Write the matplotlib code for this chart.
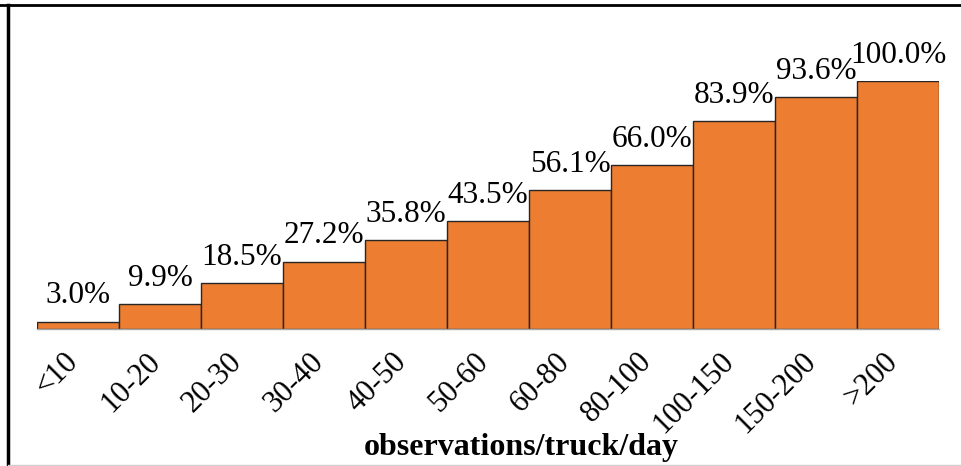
import numpy as np
import matplotlib.pyplot as plt
import matplotlib.transforms as mtransforms
from matplotlib.lines import Line2D
from matplotlib import rcParams
rcParams['font.family'] = 'Liberation Serif'

categories = ["<10", "10-20", "20-30", "30-40", "40-50", "50-60",
              "60-80", "80-100", "100-150", "150-200", ">200"]
cum_pct = [3.0, 9.9, 18.5, 27.2, 35.8, 43.5, 56.1, 66.0, 83.9, 93.6, 100.0]

fig = plt.figure(figsize=(9.61, 4.66), dpi=100)
ax = fig.add_axes([37/961, 1 - 329/466, 902/961, 248/466])

x = np.arange(len(categories))
bars = ax.bar(x, cum_pct, width=1.0, color="#ED7D31", edgecolor="#262626", linewidth=1.0)
ax.bar_label(bars, labels=[f"{v:.1f}%" for v in cum_pct], padding=8, fontsize=22.5)

ax.set_xlim(-0.5, len(categories) - 0.5)
ax.set_ylim(0, 100)
ax.set_yticks([])
ax.set_xticks(x)
ax.set_xticklabels(categories, rotation=45, ha="right", fontsize=22)
ax.tick_params(axis="x", length=0, pad=13)
# nudge rotated labels a little to the right, like the original
shift = mtransforms.ScaledTranslation(6/100, 0, fig.dpi_scale_trans)
for lbl in ax.get_xticklabels():
    lbl.set_transform(lbl.get_transform() + shift)
for s in ["top", "right", "left"]:
    ax.spines[s].set_visible(False)
ax.spines["bottom"].set_color("#A6A6A6")
ax.spines["bottom"].set_linewidth(1.0)

ax.set_xlabel("observations/truck/day", fontsize=23, fontweight="bold", va="baseline")
ax.xaxis.set_label_coords((521 - 37) / 902, (329 - 455) / 248)

# outer frame
fig.add_artist(Line2D([0, 1], [1 - 5/466, 1 - 5/466], transform=fig.transFigure, color="black", lw=2))
fig.add_artist(Line2D([8/961, 8/961], [0, 1 - 5/466], transform=fig.transFigure, color="black", lw=2.5))
fig.add_artist(Line2D([8/961, 1], [1/466, 1/466], transform=fig.transFigure, color="#D0D0D0", lw=1))

plt.savefig("out.png", dpi=100)
